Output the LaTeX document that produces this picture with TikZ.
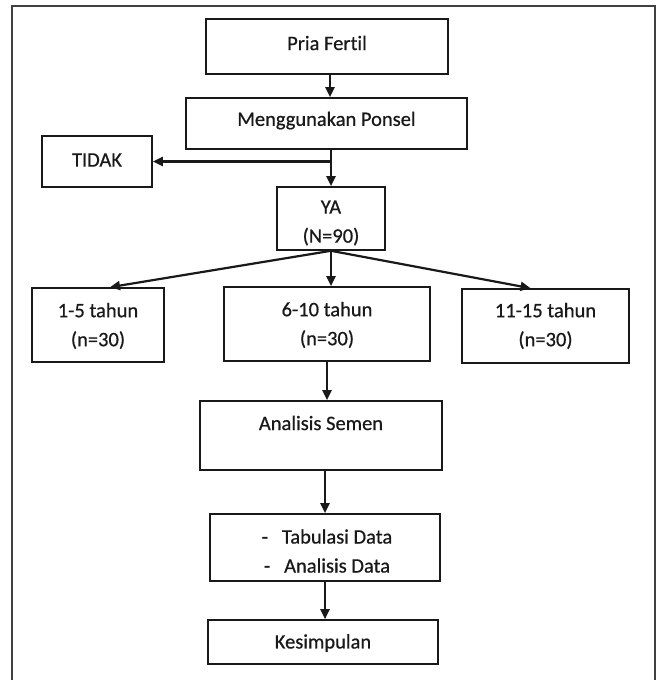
\documentclass[tikz,border=0pt]{standalone}
\usepackage{fontspec}
\setmainfont{Carlito}[Ligatures=NoCommon, FakeBold=0.6]
\usetikzlibrary{arrows.meta}
\begin{document}
\begin{tikzpicture}[x=1pt,y=-1pt,
  box/.style={draw=black!90, line width=1.6pt, inner sep=0pt, rectangle},
  txt/.style={inner sep=0pt, align=center, text=black!90, font=\fontsize{20.5}{29}\selectfont},
  arr/.style={line width=2.2pt, draw=black!90, -{Triangle[length=10pt,width=9pt]}},
  frame/.style={draw=black!75, line width=1.6pt}]
\useasboundingbox (0,0) rectangle (657,680);
% outer frame
\draw[frame] (12,680) -- (12,6) -- (655,6) -- (655,680);
% boxes
\node[box, minimum width=242pt, minimum height=55pt] (pf) at (327,46.5) {};
\node[txt] (pft) at (327,43) {Pria Fertil};
\node[box, minimum width=281pt, minimum height=51pt] (mp) at (326.5,123.5) {};
\node[txt] (mpt) at (326.5,120.5) {Menggunakan Ponsel};
\node[box, minimum width=110pt, minimum height=51pt] (td) at (97,161.5) {};
\node[txt] (tdt) at (97,160) {TIDAK};
\node[box, minimum width=108pt, minimum height=63pt] (ya) at (331,218.5) {};
\node[txt] (yat) at (331,223) {YA\\(N=90)};
\node[box, minimum width=132pt, minimum height=74pt] (b1) at (98,325) {};
\node[txt] (b1t) at (98,326) {1-5 tahun\\(n=30)};
\node[box, minimum width=206pt, minimum height=74pt] (b2) at (327,324) {};
\node[txt] (b2t) at (327,325) {6-10 tahun\\(n=30)};
\node[box, minimum width=167pt, minimum height=74pt] (b3) at (545.5,326) {};
\node[txt] (b3t) at (545.5,326) {11-15 tahun\\(n=30)};
\node[box, minimum width=242pt, minimum height=69pt] (as) at (321,435.5) {};
\node[txt] (ast) at (321,423) {Analisis Semen};
\node[box, minimum width=230pt, minimum height=67pt] (tb) at (325,547.5) {};
\node[txt] (tbt) at (327,551) {-\hspace{14pt}Tabulasi Data\\-\hspace{14pt}Analisis Data};
\node[box, minimum width=230pt, minimum height=44pt] (ks) at (323,642) {};
\node[txt] (kst) at (323,643) {Kesimpulan};
% connectors
\draw[arr] ([xshift=3pt]pf.south) -- ([xshift=3pt]pf.south |- mp.north);
\draw[arr] (ya.north |- mp.south) -- (ya.north);
\draw[arr] (ya.north |- td.east) -- (td.east);
\draw[arr] (ya.south) -- ([xshift=12pt]b1.north);
\draw[arr] (ya.south) -- (ya.south |- b2.north);
\draw[arr] (ya.south) -- ([xshift=-15pt]b3.north);
\draw[arr] (b2.south) -- (b2.south |- as.north);
\draw[arr] (tb.north |- as.south) -- (tb.north);
\draw[arr] (tb.south) -- (tb.south |- ks.north);
\end{tikzpicture}
\end{document}
